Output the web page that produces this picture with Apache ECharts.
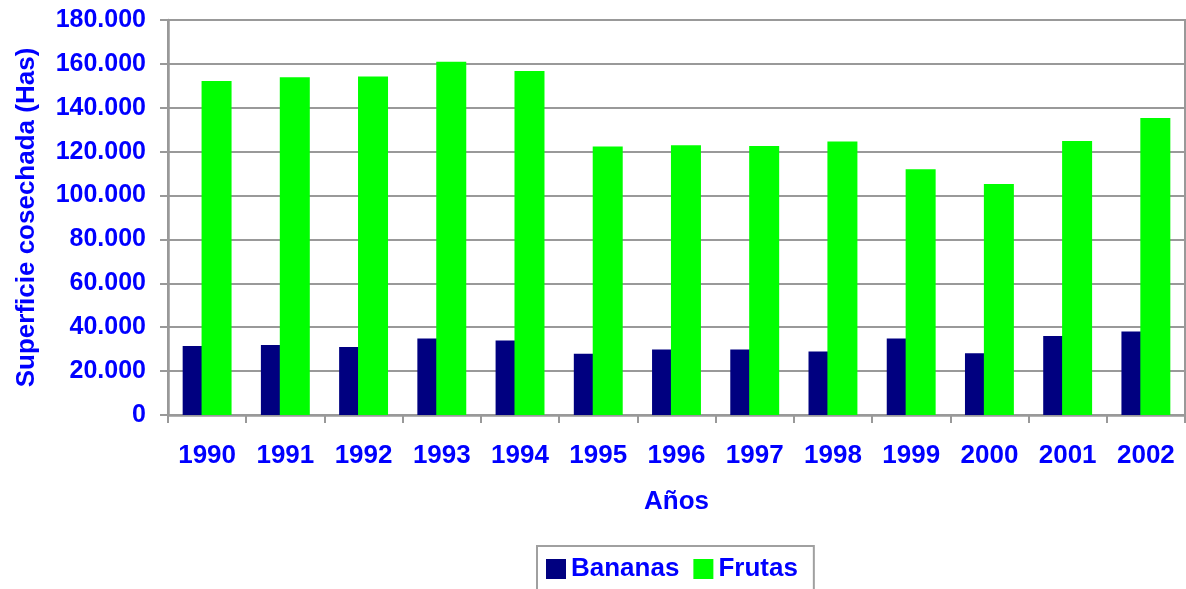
<!DOCTYPE html>
<html>
<head>
<meta charset="utf-8">
<script src="https://cdn.jsdelivr.net/npm/echarts@6/dist/echarts.min.js"></script>
<style>
  html, body { margin: 0; padding: 0; background: #fff; }
  #container { width: 1186px; height: 589px; }
</style>
</head>
<body>
<div id="container"></div>
<script>
var years = ['1990', '1991', '1992', '1993', '1994', '1995', '1996', '1997', '1998', '1999', '2000', '2001', '2002'];
var bananas = [31400, 31900, 31000, 34900, 33900, 27900, 29900, 29900, 28900, 34900, 28100, 36000, 38000];
var frutas = [152200, 153900, 154200, 161000, 156800, 122400, 122900, 122600, 124600, 112000, 105300, 124900, 135300];

var blue = '#0000ff';
var font = "'Liberation Sans', Arial, sans-serif";

var dom = document.getElementById('container');
var myChart = echarts.init(dom);

function thousands(v) {
    return String(v).replace(/\B(?=(\d{3})+(?!\d))/g, '.');
}

var option = {
    animation: false,
    backgroundColor: '#fff',
    textStyle: { fontFamily: font },
    grid: {
        left: 168,
        right: 1,
        top: 20,
        bottom: 174,
        outerBoundsMode: 'none',
        containLabel: false,
        show: true,
        borderColor: '#999',
        borderWidth: 2
    },
    legend: {
        data: ['Bananas', 'Frutas'],
        left: 537,
        top: 546,
        padding: [10, 16, 10, 9],
        borderColor: '#a0a0a0',
        borderWidth: 2,
        icon: 'rect',
        itemWidth: 20,
        itemHeight: 20,
        itemGap: 14,
        textStyle: { color: blue, fontWeight: 'bold', fontSize: 26, fontFamily: font }
    },
    xAxis: {
        type: 'category',
        data: years,
        name: 'Años',
        nameLocation: 'middle',
        nameGap: 74,
        nameTextStyle: { color: blue, fontWeight: 'bold', fontSize: 26, fontFamily: font },
        axisLine: { lineStyle: { color: '#999', width: 2.5 } },
        axisTick: { show: true, length: 8, lineStyle: { color: '#999', width: 2 } },
        axisLabel: { color: blue, fontWeight: 'bold', fontSize: 26, margin: 28, fontFamily: font }
    },
    yAxis: {
        type: 'value',
        min: 0,
        max: 180000,
        interval: 20000,
        name: 'Superficie cosechada (Has)',
        nameLocation: 'middle',
        nameRotate: 90,
        nameGap: 128,
        nameTextStyle: { color: blue, fontWeight: 'bold', fontSize: 26, fontFamily: font },
        axisLine: { show: true, lineStyle: { color: '#999', width: 2.5 } },
        axisTick: { show: true, length: 8, lineStyle: { color: '#999', width: 2 } },
        splitLine: { lineStyle: { color: '#999', width: 2 } },
        axisLabel: {
            color: blue, fontWeight: 'bold', fontSize: 25, margin: 22, fontFamily: font,
            formatter: function (v) { return thousands(v); }
        }
    },
    series: [
        {
            name: 'Bananas',
            type: 'bar',
            data: bananas,
            barWidth: 30,
            barGap: '-37%',
            itemStyle: { color: '#000080' }
        },
        {
            name: 'Frutas',
            type: 'bar',
            data: frutas,
            barWidth: 30,
            itemStyle: { color: '#00ff00' }
        }
    ]
};

myChart.setOption(option);
</script>
</body>
</html>
